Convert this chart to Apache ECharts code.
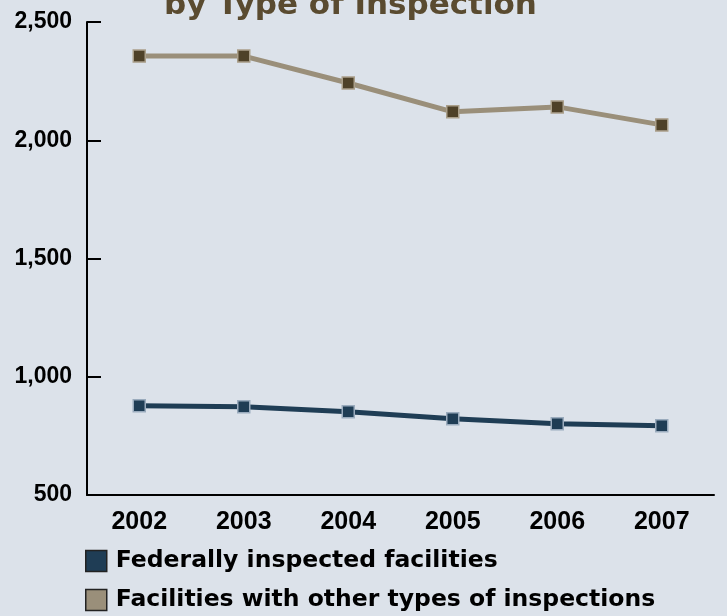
<!DOCTYPE html>
<html>
<head>
<meta charset="utf-8">
<script src="https://cdn.jsdelivr.net/npm/echarts@6/dist/echarts.min.js"></script>
<style>
html,body{margin:0;padding:0;background:#dce2ea;}
#chart{width:727px;height:616px;}
</style>
</head>
<body>
<div id="chart"></div>
<script>
const years = ['2002','2003','2004','2005','2006','2007'];
const federal = [877, 873, 852, 822, 801, 793];
const other = [2356, 2356, 2242, 2120, 2141, 2065];
const yTicks = [500, 1000, 1500, 2000, 2500];
const seriesNames = ['Federally inspected facilities', 'Facilities with other types of inspections'];
const seriesColors = ['#1f3d55', '#9a8f7a'];

const chart = echarts.init(document.getElementById('chart'));
const legendText = {
  fontFamily: 'DejaVu Sans',
  fontWeight: 'bold',
  fontSize: 23.5,
  color: '#000',
  padding: [3, 0, 0, 4]
};
function makeLegend(i, top) {
  return {
    orient: 'vertical',
    left: 85,
    top: top,
    padding: 0,
    itemWidth: 21,
    itemHeight: 21,
    icon: 'rect',
    data: [{
      name: seriesNames[i],
      itemStyle: { color: seriesColors[i], borderColor: '#222', borderWidth: 1.5 }
    }],
    textStyle: legendText
  };
}
chart.setOption({
  backgroundColor: '#dce2ea',
  animation: false,
  title: {
    text: 'by Type of Inspection',
    left: 164,
    top: -10,
    padding: 0,
    textStyle: {
      fontFamily: 'DejaVu Sans',
      fontWeight: 'bold',
      fontSize: 31,
      color: '#5a4b30'
    }
  },
  grid: { left: 87, right: 13, top: 22, bottom: 121, containLabel: false },
  legend: [makeLegend(0, 549), makeLegend(1, 588)],
  xAxis: {
    type: 'category',
    data: years,
    boundaryGap: true,
    axisLine: { lineStyle: { color: '#000', width: 2 } },
    axisTick: { inside: true, length: 12, lineStyle: { color: '#000', width: 2 } },
    axisLabel: {
      fontFamily: 'Liberation Sans',
      fontWeight: 'bold',
      fontSize: 25,
      color: '#000',
      margin: 15
    },
    splitLine: { show: false }
  },
  yAxis: {
    type: 'value',
    min: yTicks[0],
    max: yTicks[yTicks.length - 1],
    interval: 500,
    axisLine: { show: true, lineStyle: { color: '#000', width: 2 } },
    axisTick: { show: true, inside: true, length: 14, lineStyle: { color: '#000', width: 2 } },
    axisLabel: {
      fontFamily: 'Liberation Sans',
      fontWeight: 'bold',
      fontSize: 23,
      color: '#000',
      margin: 15,
      formatter: v => v.toLocaleString('en-US')
    },
    splitLine: { show: false }
  },
  series: [
    {
      name: seriesNames[0],
      type: 'line',
      data: federal,
      symbol: 'rect',
      symbolSize: 12,
      lineStyle: { color: '#1f3d55', width: 5 },
      itemStyle: { color: '#1f3d55', borderColor: '#9aabbd', borderWidth: 1.5 },
      z: 3
    },
    {
      name: seriesNames[1],
      type: 'line',
      data: other,
      symbol: 'rect',
      symbolSize: 12,
      lineStyle: { color: '#9a8f7a', width: 5 },
      itemStyle: { color: '#4e4128', borderColor: '#aa9f8a', borderWidth: 1.5 },
      z: 3
    }
  ]
});
</script>
</body>
</html>
